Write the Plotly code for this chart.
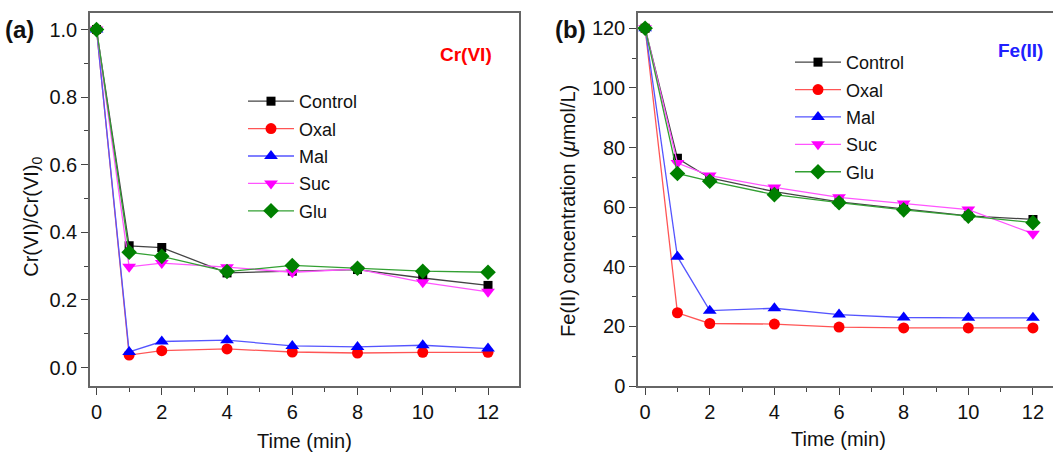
import plotly.graph_objects as go

# Sampling times (min)
time_min = [0, 1, 2, 4, 6, 8, 10, 12]

# (a) Normalised Cr(VI), C/C0
cr_control = [1.0, 0.360, 0.355, 0.280, 0.285, 0.290, 0.265, 0.243]
cr_oxal = [1.0, 0.037, 0.050, 0.055, 0.046, 0.043, 0.045, 0.045]
cr_mal = [1.0, 0.046, 0.077, 0.081, 0.064, 0.061, 0.066, 0.056]
cr_suc = [1.0, 0.298, 0.309, 0.297, 0.282, 0.291, 0.252, 0.224]
cr_glu = [1.0, 0.341, 0.329, 0.284, 0.302, 0.294, 0.285, 0.282]

# (b) Fe(II) concentration, umol/L
fe_control = [120, 76.4, 69.8, 65.2, 61.8, 59.5, 57.1, 55.9]
fe_oxal = [120, 24.6, 21.0, 20.8, 19.8, 19.5, 19.5, 19.5]
fe_mal = [120, 43.4, 25.3, 26.1, 24.0, 23.0, 22.9, 22.9]
fe_suc = [120, 74.8, 70.6, 66.6, 63.3, 61.2, 59.2, 51.1]
fe_glu = [120, 71.3, 68.7, 64.2, 61.5, 59.1, 57.0, 54.8]

series_names = ["Control", "Oxal", "Mal", "Suc", "Glu"]
marker_colors = ["#000000", "#ff0000", "#0000ff", "#ff00ff", "#008000"]
line_colors = ["#444444", "#ff5555", "#5555ff", "#ff55ff", "#33a033"]
symbols = ["square", "circle", "triangle-up", "triangle-down", "diamond"]
sizes = [9, 11, 12, 12, 12]

FONT = "Liberation Sans, Arial, sans-serif"
W, H = 1053, 464

fig = go.Figure()

panels = [
    ([cr_control, cr_oxal, cr_mal, cr_suc, cr_glu], "x", "y", "legend"),
    ([fe_control, fe_oxal, fe_mal, fe_suc, fe_glu], "x2", "y2", "legend2"),
]
for values, xa, ya, leg in panels:
    for i, (name, vals) in enumerate(zip(series_names, values)):
        fig.add_trace(go.Scatter(
            x=time_min, y=vals, name=name, mode="lines+markers",
            xaxis=xa, yaxis=ya, legend=leg, legendgroup=leg + name,
            line=dict(color=line_colors[i], width=1.3),
            marker=dict(symbol=symbols[i], size=sizes[i], color=marker_colors[i],
                        line=dict(width=0)),
        ))

def px_x(p):
    return p / W

def px_y(p):
    return 1 - p / H

axis_common = dict(
    showline=True, linecolor="#666666", linewidth=1.5,
    ticks="outside", ticklen=7, tickwidth=1.3, tickcolor="#444444",
    showgrid=False, zeroline=False,
    tickfont=dict(family=FONT, size=20, color="#111111"),
)

top, bottom = 13, 395.5

legend_common = dict(xanchor="left", yanchor="top", bgcolor="rgba(0,0,0,0)",
                     tracegroupgap=1, itemwidth=46,
                     font=dict(family=FONT, size=18, color="#111111"))

fig.update_layout(
    width=W, height=H,
    margin=dict(l=0, r=0, t=0, b=0),
    paper_bgcolor="white", plot_bgcolor="white",
    font=dict(family=FONT, size=20, color="#111111"),
    xaxis=dict(**axis_common, domain=[px_x(90), px_x(519)], range=[-0.2, 12.95],
               tickvals=[0, 2, 4, 6, 8, 10, 12], mirror=True, anchor="y",
               minor=dict(ticks="outside", ticklen=4, dtick=1, tickcolor="#444444")),
    yaxis=dict(**axis_common, domain=[px_y(bottom), px_y(top)], range=[-0.055, 1.05],
               tickvals=[0, 0.2, 0.4, 0.6, 0.8, 1.0], tickformat=".1f", mirror=True,
               anchor="x",
               minor=dict(ticks="outside", ticklen=4, dtick=0.1, tickcolor="#444444")),
    xaxis2=dict(**axis_common, domain=[px_x(638), 1.0], range=[-0.22, 12.62],
                tickvals=[0, 2, 4, 6, 8, 10, 12], mirror=True, anchor="y2",
                minor=dict(ticks="outside", ticklen=4, dtick=1, tickcolor="#444444")),
    yaxis2=dict(**axis_common, domain=[px_y(bottom), px_y(top)], range=[0, 125.2],
                tickvals=[0, 20, 40, 60, 80, 100, 120], anchor="x2",
                minor=dict(ticks="outside", ticklen=4, dtick=10, tickcolor="#444444")),
    legend=dict(**legend_common, x=px_x(243), y=px_y(85)),
    legend2=dict(**legend_common, x=px_x(790), y=px_y(45)),
)

annotations = [
    dict(text="<b>(a)</b>", x=px_x(3), y=px_y(30), xanchor="left", yanchor="middle",
         font=dict(size=24)),
    dict(text="<b>(b)</b>", x=px_x(553), y=px_y(30), xanchor="left", yanchor="middle",
         font=dict(size=24)),
    dict(text="<b>Cr(VI)</b>", x=px_x(466), y=px_y(56), xanchor="center", yanchor="middle",
         font=dict(size=19, color="#ff0000")),
    dict(text="<b>Fe(II)</b>", x=px_x(1020), y=px_y(52), xanchor="center", yanchor="middle",
         font=dict(size=19, color="#2020ff")),
    dict(text="Time (min)", x=px_x(304), y=px_y(452), xanchor="center", yanchor="middle"),
    dict(text="Time (min)", x=px_x(838), y=px_y(450), xanchor="center", yanchor="middle"),
    dict(text="Cr(VI)/Cr(VI)<sub>0</sub>", x=px_x(33), y=px_y(222), textangle=-90,
         xanchor="center", yanchor="middle"),
    dict(text="Fe(II) concentration (<i>\u03bc</i>mol/L)", x=px_x(568), y=px_y(216),
         textangle=-90, xanchor="center", yanchor="middle"),
]
for a in annotations:
    a.update(xref="paper", yref="paper", showarrow=False)
fig.update_layout(annotations=annotations)

fig.write_html("out.html")
